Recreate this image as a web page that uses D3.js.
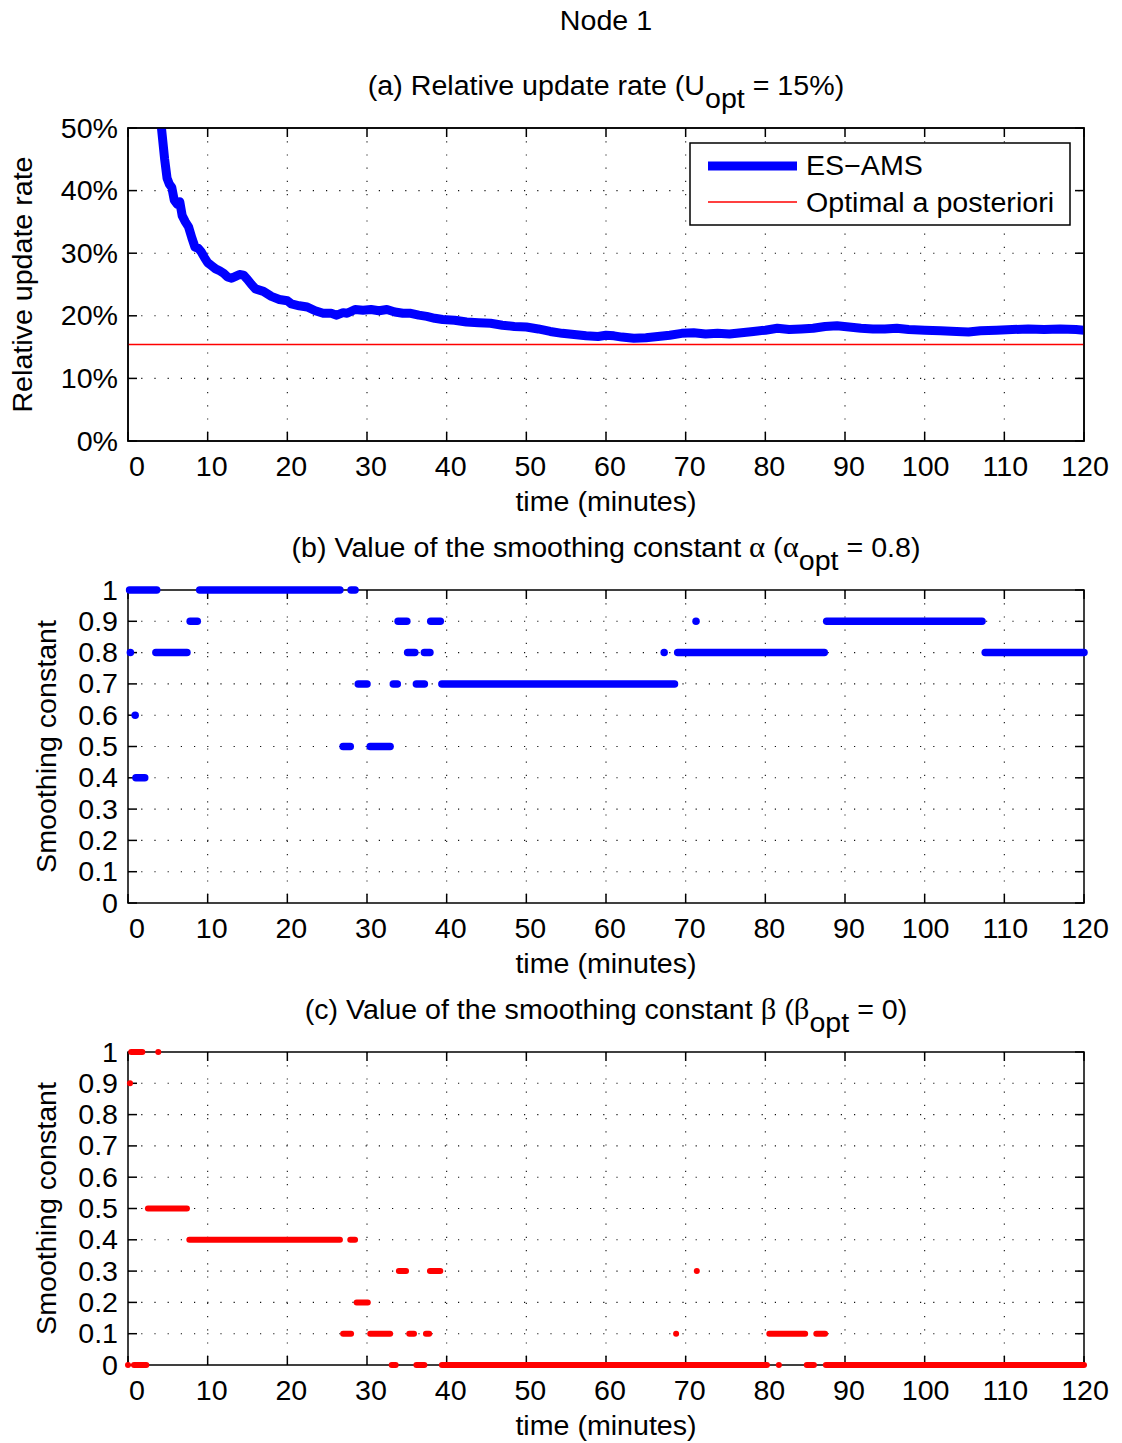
<!DOCTYPE html>
<html><head><meta charset="utf-8">
<script src="https://cdn.jsdelivr.net/npm/d3@7"></script>
<style>
body{margin:0;background:#fff}
svg{display:block}
text{font-family:"Liberation Sans",Arial,Helvetica,sans-serif;fill:#000}
</style>
</head><body><svg id="chart" width="1122" height="1443"></svg>
<script>
// ---------------- data ----------------
const figureTitle = "Node 1";
const xLabel = "time (minutes)";
const xTicks = [0,10,20,30,40,50,60,70,80,90,100,110,120];
const rateTicks = [0,10,20,30,40,50];
const rateTickLabels = ["0%","10%","20%","30%","40%","50%"];
const constTicks = [0,0.1,0.2,0.3,0.4,0.5,0.6,0.7,0.8,0.9,1];
const constTickLabels = ["0","0.1","0.2","0.3","0.4","0.5","0.6","0.7","0.8","0.9","1"];
const legendLabels = ["ES\u2212AMS","Optimal a posteriori"];

// (a) relative update rate of ES-AMS (%)
const rateTime = [3.8,4.2,4.6,4.9,5.2,5.5,5.8,6.2,6.5,6.8,7.2,7.6,8.0,8.4,8.8,9.2,9.6,10.0,10.5,11.0,11.5,12.0,12.5,13.0,13.5,14.0,14.5,15.0,15.5,16.0,17.0,18.0,19.0,20.0,20.5,21.5,22.5,23.5,24.5,25.5,26.2,27.0,27.5,28.5,29.5,30.5,31.5,32.5,33.5,34.5,35.5,36.5,37.5,38.5,39.5,41,42.5,44,45.5,47,48.5,50,51.5,53,54.5,56,57.5,59,60,61,62,63.5,65,66.5,68,69.5,71,72.5,74,75.5,77,78.5,80,81.5,83,84.5,86,87.5,89,90.5,92,93.5,95,96.5,98,100,102,104,105.5,107,109,111,113,115,117,119,120];
const rateValue = [53,50,45,42,41,40.5,38.5,37.8,38.2,36,35,34.2,32.5,31,30.8,30.2,29.3,28.5,28,27.5,27.2,26.8,26.2,26.0,26.3,26.6,26.5,25.8,25,24.3,23.9,23.1,22.6,22.4,21.9,21.6,21.4,20.8,20.4,20.4,20.1,20.5,20.4,21.0,20.9,21.0,20.8,21.0,20.6,20.4,20.4,20.1,19.9,19.6,19.4,19.3,19.0,18.9,18.8,18.5,18.3,18.2,17.9,17.5,17.2,17.0,16.8,16.7,16.9,16.8,16.6,16.4,16.5,16.7,16.9,17.2,17.3,17.1,17.2,17.1,17.3,17.5,17.7,18.0,17.8,17.9,18.0,18.3,18.4,18.2,18.0,17.9,17.9,18.0,17.8,17.7,17.6,17.5,17.4,17.6,17.7,17.8,17.9,17.8,17.9,17.8,17.7];
const optimalRate = 15.4;

// (b) alpha runs: [start minute, end minute, value]
const alphaRuns = [
  [0.3,0.3,0.8],[0.2,3.6,1.0],[0.9,0.9,0.6],[1.0,2.1,0.4],[3.5,7.4,0.8],
  [7.8,8.7,0.9],[9.0,26.6,1.0],[27.0,27.9,0.5],[28.0,28.5,1.0],[28.9,30.0,0.7],
  [30.4,32.9,0.5],[33.3,33.8,0.7],[33.9,35.0,0.9],[35.1,36.0,0.8],[36.2,37.2,0.7],
  [37.2,37.9,0.8],[38.0,39.2,0.9],[39.4,68.6,0.7],[67.3,67.3,0.8],[69.0,87.4,0.8],
  [71.3,71.3,0.9],[87.7,107.2,0.9],[107.6,120,0.8]
];
// (c) beta runs: [start minute, end minute, value]
const betaRuns = [
  [0.0,0.0,0.0],[0.25,0.25,0.9],[0.4,1.8,1.0],[0.75,2.3,0.0],[3.8,3.8,1.0],
  [2.5,7.4,0.5],[7.7,26.6,0.4],[27.0,28.0,0.1],[27.9,28.5,0.4],[28.7,30.1,0.2],
  [30.4,32.9,0.1],[33.1,33.6,0.0],[34.0,34.9,0.3],[35.3,35.9,0.1],[36.2,37.2,0.0],
  [37.4,37.8,0.1],[37.9,39.2,0.3],[39.4,80.2,0.0],[68.8,68.8,0.1],[71.4,71.4,0.3],
  [80.5,85.0,0.1],[81.7,81.7,0.0],[85.2,86.1,0.0],[86.4,87.5,0.1],[87.6,120,0.0]
];

// ---------------- drawing ----------------
const svg = d3.select("#chart");
const FS = 27, SX = 1.06;
const left = 128, right = 1084, plotH = 313;
const x = d3.scaleLinear().domain([0,120]).range([left,right]);

function txt(parent, px, py, anchor, rotate){
  const g = parent.append("g")
    .attr("transform", `translate(${px},${py})${rotate ? " rotate(-90)" : ""} scale(${SX},1)`);
  return g.append("text").attr("text-anchor", anchor).style("font-size", FS + "px");
}
function sub(t, s){ t.append("tspan").attr("dy",13).text(s); }
function greek(t, s){ t.append("tspan").style("font-family",'"Liberation Serif","Times New Roman",serif').style("font-size","29px").text(s); }

function panel(top, yDomain, yTicks, yTickLabels, yLabelText, titleFn){
  const bottom = top + plotH;
  const y = d3.scaleLinear().domain(yDomain).range([bottom, top]);
  const g = svg.append("g");
  // grid
  const grid = g.append("g").attr("stroke","#111").attr("stroke-width",1.1).attr("stroke-dasharray","1.2 12");
  xTicks.slice(1,-1).forEach(v => grid.append("line").attr("x1",x(v)).attr("x2",x(v)).attr("y1",top).attr("y2",bottom));
  yTicks.slice(1,-1).forEach(v => grid.append("line").attr("x1",left).attr("x2",right).attr("y1",y(v)).attr("y2",y(v)));
  // box + ticks
  const ax = g.append("g").attr("stroke","#000").attr("stroke-width",1.5).attr("fill","none");
  ax.append("rect").attr("x",left).attr("y",top).attr("width",right-left).attr("height",plotH);
  xTicks.forEach(v => {
    ax.append("line").attr("x1",x(v)).attr("x2",x(v)).attr("y1",bottom).attr("y2",bottom-9);
    ax.append("line").attr("x1",x(v)).attr("x2",x(v)).attr("y1",top).attr("y2",top+9);
  });
  yTicks.forEach(v => {
    ax.append("line").attr("x1",left).attr("x2",left+9).attr("y1",y(v)).attr("y2",y(v));
    ax.append("line").attr("x1",right).attr("x2",right-9).attr("y1",y(v)).attr("y2",y(v));
  });
  // tick labels
  xTicks.forEach(v => {
    const s = String(v);
    const dx = s.length === 1 ? 9 : (s.length === 2 ? 4 : 1);
    txt(g, x(v)+dx, bottom+35, "middle").text(s);
  });
  yTicks.forEach((v,i) => txt(g, 118, y(v)+9.5, "end").text(yTickLabels[i]));
  // axis labels
  txt(g, (left+right)/2, bottom+70, "middle").text(xLabel);
  txt(g, yLabelText[1], (top+bottom)/2, "middle", true).text(yLabelText[0]);
  // title
  titleFn(txt(g, (left+right)/2, top-33, "middle"));
  return {g, y, top, bottom};
}

// figure title
txt(svg, 606, 30, "middle").text(figureTitle);

// ---- (a)
const pa = panel(128, [0,50], rateTicks, rateTickLabels, ["Relative update rate", 32], t => {
  t.append("tspan").text("(a) Relative update rate (U");
  sub(t,"opt");
  t.append("tspan").attr("dy",-13).text(" = 15%)");
});
svg.append("defs").append("clipPath").attr("id","clipA").append("rect")
  .attr("x",left).attr("y",pa.top).attr("width",right-left).attr("height",plotH);
const dataA = pa.g.append("g").attr("clip-path","url(#clipA)");
dataA.append("line").attr("x1",left).attr("x2",right).attr("y1",pa.y(optimalRate)).attr("y2",pa.y(optimalRate))
  .attr("stroke","#ff0000").attr("stroke-width",1.5);
const rateData = rateTime.map((t,i)=>[t,rateValue[i]]);
dataA.append("path").datum(rateData)
  .attr("d", d3.line().x(d=>x(d[0])).y(d=>pa.y(d[1])))
  .attr("fill","none").attr("stroke","#0000ff").attr("stroke-width",9)
  .attr("stroke-linejoin","round").attr("stroke-linecap","round");
pa.g.append("rect").attr("x",left).attr("y",pa.top).attr("width",right-left).attr("height",plotH)
  .attr("fill","none").attr("stroke","#000").attr("stroke-width",1.5);
// legend
const lg = pa.g.append("g");
lg.append("rect").attr("x",690).attr("y",143).attr("width",380).attr("height",82)
  .attr("fill","#fff").attr("stroke","#000").attr("stroke-width",1.5);
lg.append("line").attr("x1",708).attr("x2",797).attr("y1",166).attr("y2",166).attr("stroke","#0000ff").attr("stroke-width",9);
lg.append("line").attr("x1",708).attr("x2",797).attr("y1",202).attr("y2",202).attr("stroke","#ff0000").attr("stroke-width",1.5);
txt(lg, 806, 175, "start").text(legendLabels[0]);
txt(lg, 806, 211.5, "start").text(legendLabels[1]);

// ---- runs helper
function drawRuns(p, runs, color, w){
  const d = p.g.append("g");
  runs.forEach(r => {
    if (r[0] === r[1]) {
      d.append("circle").attr("cx",x(r[0])).attr("cy",p.y(r[2])).attr("r",w/2).attr("fill",color);
    } else {
      d.append("line").attr("x1",x(r[0])).attr("x2",x(r[1])).attr("y1",p.y(r[2])).attr("y2",p.y(r[2]))
        .attr("stroke",color).attr("stroke-width",w).attr("stroke-linecap","round");
    }
  });
}

// ---- (b)
const pb = panel(590, [0,1], constTicks, constTickLabels, ["Smoothing constant", 56], t => {
  t.append("tspan").text("(b) Value of the smoothing constant ");
  greek(t,"\u03b1");
  t.append("tspan").text(" (");
  greek(t,"\u03b1");
  sub(t,"opt");
  t.append("tspan").attr("dy",-13).text(" = 0.8)");
});
drawRuns(pb, alphaRuns, "#0000ff", 7.5);

// ---- (c)
const pc = panel(1052, [0,1], constTicks, constTickLabels, ["Smoothing constant", 56], t => {
  t.append("tspan").text("(c) Value of the smoothing constant ");
  greek(t,"\u03b2");
  t.append("tspan").text(" (");
  greek(t,"\u03b2");
  sub(t,"opt");
  t.append("tspan").attr("dy",-13).text(" = 0)");
});
drawRuns(pc, betaRuns, "#ff0000", 6);
</script>
</body></html>
